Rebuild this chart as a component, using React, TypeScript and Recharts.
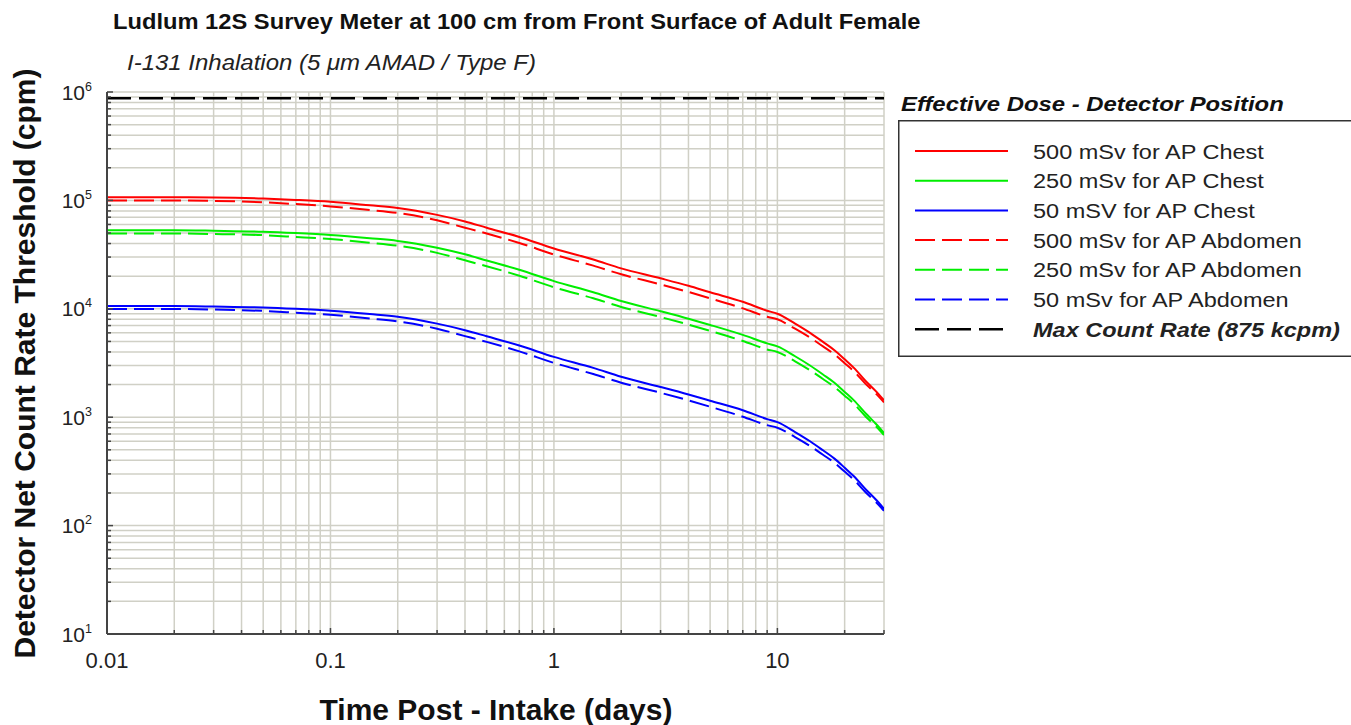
import { LineChart, Line, XAxis, YAxis, CartesianGrid, ReferenceLine } from 'recharts';

const days = [0.01, 0.02, 0.03, 0.05, 0.07, 0.1, 0.15, 0.2, 0.3, 0.4, 0.5, 0.7, 1, 1.5, 2, 3, 4, 5, 7, 9, 10, 12, 14, 16, 18, 20, 22, 25, 27.5, 30];

const chest500 = [107000, 107000, 106500, 104000, 101000, 97000, 90000, 85000, 73500, 64000, 56000, 46000, 36000, 28500, 23600, 19100, 16300, 14200, 11600, 9600, 9000, 7300, 6000, 4950, 4150, 3420, 2850, 2130, 1750, 1430];
const chest250 = [53000, 53000, 52500, 51500, 50000, 48000, 44800, 42300, 36600, 31800, 27900, 22900, 18000, 14200, 11800, 9500, 8100, 7100, 5750, 4800, 4500, 3650, 3000, 2480, 2080, 1710, 1430, 1070, 875, 715];
const chest50 = [10600, 10600, 10500, 10300, 10000, 9600, 8950, 8450, 7300, 6350, 5580, 4580, 3600, 2850, 2360, 1900, 1620, 1420, 1160, 960, 900, 730, 600, 495, 415, 342, 285, 213, 175, 143];
const abdomen500 = [100000, 100000, 99000, 96000, 92500, 88000, 81500, 76500, 65500, 56000, 49500, 40500, 31700, 25000, 20800, 16800, 14300, 12500, 10100, 8450, 8000, 6550, 5420, 4500, 3800, 3150, 2650, 2000, 1660, 1370];
const abdomen250 = [49500, 49500, 49000, 47800, 46000, 44000, 40700, 38200, 32800, 28000, 24700, 20200, 15800, 12500, 10400, 8400, 7150, 6250, 5050, 4220, 4000, 3280, 2710, 2250, 1900, 1580, 1330, 1000, 830, 685];
const abdomen50 = [9950, 9950, 9850, 9560, 9200, 8800, 8130, 7640, 6550, 5600, 4950, 4050, 3170, 2500, 2080, 1680, 1430, 1250, 1010, 845, 800, 655, 542, 450, 380, 315, 265, 200, 166, 137];

const MAX_RATE = 875000;

const X_MAJOR = [0.01, 0.1, 1, 10];
const X_LABELS = ['0.01', '0.1', '1', '10'];
const Y_MAJOR = [10, 100, 1000, 10000, 100000, 1000000];
const Y_EXP = ['1', '2', '3', '4', '5', '6'];

const xTicks: number[] = [];
X_MAJOR.forEach((d) => {
  for (let k = 1; k <= 9; k++) if (d * k <= 30.001) xTicks.push(d * k);
});
const yTicks: number[] = [];
Y_MAJOR.forEach((d, i) => {
  if (i === Y_MAJOR.length - 1) { yTicks.push(d); return; }
  for (let k = 1; k <= 9; k++) yTicks.push(d * k);
});

const data = days.map((t, i) => ({
  t,
  c500: chest500[i],
  c250: chest250[i],
  c50: chest50[i],
  a500: abdomen500[i],
  a250: abdomen250[i],
  a50: abdomen50[i],
}));

const FONT = '"Liberation Sans", Arial, sans-serif';
const AXIS = '#444';

const series = [
  { key: 'c500', name: '500 mSv for AP Chest', color: '#ff0000', dash: undefined },
  { key: 'c250', name: '250 mSv for AP Chest', color: '#00ee00', dash: undefined },
  { key: 'c50', name: '50 mSV for AP Chest', color: '#0000ff', dash: undefined },
  { key: 'a500', name: '500 mSv for AP Abdomen', color: '#ff0000', dash: '20 7' },
  { key: 'a250', name: '250 mSv for AP Abdomen', color: '#00ee00', dash: '20 7' },
  { key: 'a50', name: '50 mSv for AP Abdomen', color: '#0000ff', dash: '20 7' },
];

function BottomTick(props: any) {
  const { x, y, payload } = props;
  const i = X_MAJOR.findIndex((m) => Math.abs(m - payload.value) < 1e-9);
  return (
    <g>
      <line x1={x} x2={x} y1={y} y2={y - (i >= 0 ? 6 : 4)} stroke={AXIS} strokeWidth={1.5} />
      {i >= 0 && (
        <text x={x} y={y + 34} textAnchor="middle" fontSize={22} fill="#222" fontFamily={FONT}>
          {X_LABELS[i]}
        </text>
      )}
    </g>
  );
}

function TopTick(props: any) {
  const { x, y, payload } = props;
  const major = X_MAJOR.some((m) => Math.abs(m - payload.value) < 1e-9);
  return <line x1={x} x2={x} y1={y} y2={y + (major ? 6 : 4)} stroke={AXIS} strokeWidth={1.5} />;
}

function LeftTick(props: any) {
  const { x, y, payload } = props;
  const i = Y_MAJOR.findIndex((m) => Math.abs(m - payload.value) < 1e-6);
  return (
    <g>
      <line x1={x} x2={x + (i >= 0 ? 6 : 4)} y1={y} y2={y} stroke={AXIS} strokeWidth={1.5} />
      {i >= 0 && (
        <text x={92} y={y + 7.5} textAnchor="end" fontSize={21} fill="#222" fontFamily={FONT}>
          10
          <tspan dy={-9} fontSize={12.5}>{Y_EXP[i]}</tspan>
        </text>
      )}
    </g>
  );
}

function RightTick(props: any) {
  const { x, y, payload } = props;
  const major = Y_MAJOR.some((m) => Math.abs(m - payload.value) < 1e-6);
  return <line x1={x} x2={x - (major ? 6 : 4)} y1={y} y2={y} stroke={AXIS} strokeWidth={1.5} />;
}

function Labels() {
  const rows = [
    ...series.map((s) => ({ name: s.name, color: s.color, dash: s.dash, bold: false })),
    { name: 'Max Count Rate (875 kcpm)', color: '#000', dash: '24 8', bold: true },
  ];
  return (
    <svg width={1351} height={725} style={{ position: 'absolute', left: 0, top: 0, pointerEvents: 'none' }} fontFamily={FONT}>
      <text transform="translate(113,29.3) scale(1.063,1)" fontSize={22.3} fontWeight="bold" fill="#111">
        Ludlum 12S Survey Meter at 100 cm from Front Surface of Adult Female
      </text>
      <text transform="translate(127,70) scale(1.066,1)" fontSize={22.5} fontStyle="italic" fill="#222">
        I-131 Inhalation (5 μm AMAD / Type F)
      </text>
      <text transform="translate(34.5,363.5) rotate(-90)" textAnchor="middle" fontSize={30} fontWeight="bold" fill="#111">
        Detector Net Count Rate Threshold (cpm)
      </text>
      <text x={496} y={720} textAnchor="middle" fontSize={30} fontWeight="bold" fill="#111">
        Time Post - Intake (days)
      </text>
      <text transform="translate(901,110.7) scale(1.137,1)" fontSize={21} fontWeight="bold" fontStyle="italic" fill="#111">
        Effective Dose - Detector Position
      </text>
      <rect x={898.75} y={120.75} width={470} height={235.5} fill="#fff" stroke="#333" strokeWidth={1.5} />
      {rows.map((r, i) => {
        const cy = 151 + i * 29.7;
        return (
          <g key={r.name}>
            <line x1={915} x2={1008} y1={cy} y2={cy} stroke={r.color} strokeWidth={r.bold ? 2.5 : 2} strokeDasharray={r.dash} />
            <text
              transform={`translate(1033,${cy + 7.5}) scale(1.12,1)`}
              fontSize={21}
              fill="#222"
              fontWeight={r.bold ? 'bold' : 'normal'}
              fontStyle={r.bold ? 'italic' : 'normal'}
            >
              {r.name}
            </text>
          </g>
        );
      })}
    </svg>
  );
}

export default function App() {
  return (
    <div style={{ position: 'absolute', left: 0, top: 0, width: 1351, height: 725, background: '#fff', overflow: 'hidden' }}>
      <div style={{ position: 'absolute', left: 0, top: 0 }}>
        <LineChart width={900} height={725} data={data} margin={{ top: 92, right: 16, bottom: 51, left: 47 }}>
          <CartesianGrid stroke="#d0d0c6" strokeWidth={1.5} />
          <XAxis
            dataKey="t"
            type="number"
            scale="log"
            domain={[0.01, 30]}
            allowDataOverflow
            ticks={xTicks}
            interval={0}
            height={40}
            tickSize={0}
            tickMargin={0}
            tick={<BottomTick />}
            axisLine={{ stroke: AXIS, strokeWidth: 2 }}
          />
          <XAxis
            xAxisId="top"
            orientation="top"
            dataKey="t"
            type="number"
            scale="log"
            domain={[0.01, 30]}
            allowDataOverflow
            ticks={xTicks}
            interval={0}
            height={0}
            tickSize={0}
            tickMargin={0}
            tick={<TopTick />}
            axisLine={{ stroke: AXIS, strokeWidth: 2 }}
          />
          <YAxis
            type="number"
            scale="log"
            domain={[10, 1000000]}
            allowDataOverflow
            ticks={yTicks}
            interval={0}
            width={60}
            tickSize={0}
            tickMargin={0}
            tick={<LeftTick />}
            axisLine={{ stroke: AXIS, strokeWidth: 2 }}
          />
          <YAxis
            yAxisId="right"
            orientation="right"
            type="number"
            scale="log"
            domain={[10, 1000000]}
            allowDataOverflow
            ticks={yTicks}
            interval={0}
            width={0}
            tickSize={0}
            tickMargin={0}
            tick={<RightTick />}
            axisLine={{ stroke: AXIS, strokeWidth: 2 }}
          />
          <ReferenceLine y={MAX_RATE} stroke="#000" strokeWidth={2.5} strokeDasharray="24 8" />
          {series.map((s) => (
            <Line
              key={s.key}
              dataKey={s.key}
              type="monotone"
              stroke={s.color}
              strokeWidth={2}
              strokeDasharray={s.dash}
              dot={false}
              isAnimationActive={false}
            />
          ))}
        </LineChart>
      </div>
      <Labels />
    </div>
  );
}
